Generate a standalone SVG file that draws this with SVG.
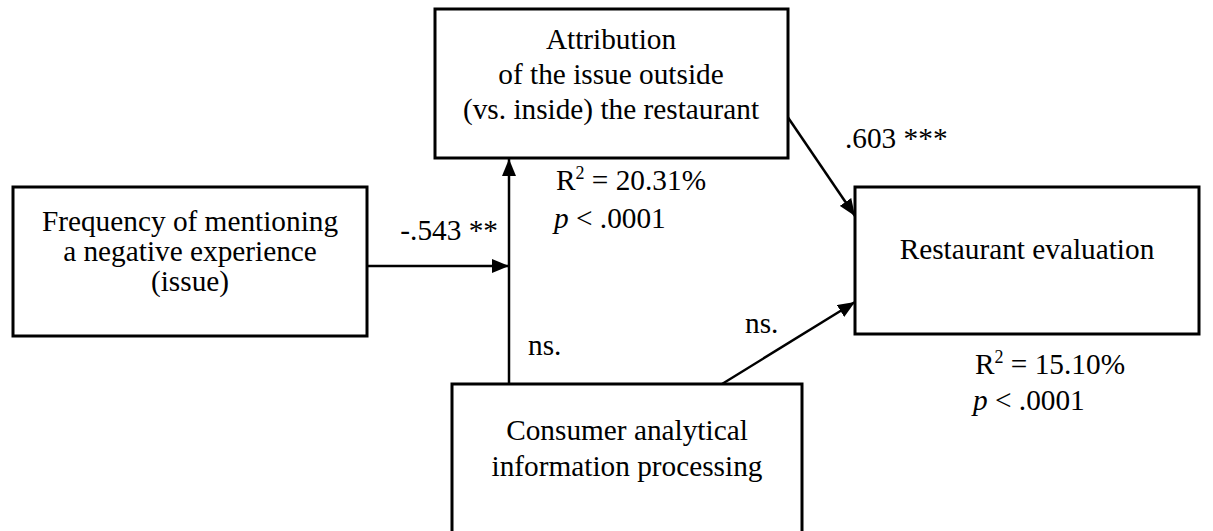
<svg xmlns="http://www.w3.org/2000/svg" width="1213" height="531" viewBox="0 0 1213 531">
<style>
.box{fill:#fff;stroke:#000;stroke-width:3}
.t{font-family:"Liberation Serif","Times New Roman",serif;font-size:29.3px;fill:#000}
.c{text-anchor:middle}
.edge{stroke:#000;stroke-width:2.5;fill:none}
</style>
<defs>
<marker id="ah" markerUnits="userSpaceOnUse" markerWidth="18" markerHeight="14" refX="17" refY="7" orient="auto">
<path d="M0,0 L17,7 L0,14 z" fill="#000"/>
</marker>
</defs>
<rect width="1213" height="531" fill="#fff"/>
<g id="connectors">
<line class="edge" x1="367" y1="266" x2="509" y2="266" marker-end="url(#ah)"/>
<line class="edge" x1="509" y1="384" x2="509" y2="159" marker-end="url(#ah)"/>
<line class="edge" x1="787" y1="116" x2="855" y2="216" marker-end="url(#ah)"/>
<line class="edge" x1="722" y1="384" x2="855" y2="302" marker-end="url(#ah)"/>
</g>
<g id="node-attribution">
<rect class="box" x="435" y="9" width="353" height="149"/>
<text class="t c" x="611" y="49">Attribution</text>
<text class="t c" x="611" y="84">of the issue outside</text>
<text class="t c" x="611" y="119">(vs. inside) the restaurant</text>
</g>
<g id="node-frequency">
<rect class="box" x="13" y="187" width="354" height="149"/>
<text class="t c" x="190" y="231">Frequency of mentioning</text>
<text class="t c" x="190" y="261">a negative experience</text>
<text class="t c" x="190" y="291">(issue)</text>
</g>
<g id="node-evaluation">
<rect class="box" x="855" y="187" width="344" height="147"/>
<text class="t c" x="1027" y="259">Restaurant evaluation</text>
</g>
<g id="node-processing">
<rect class="box" x="452" y="384" width="350" height="160"/>
<text class="t c" x="627" y="440">Consumer analytical</text>
<text class="t c" x="627" y="476">information processing</text>
</g>
<g id="labels">
<text class="t" x="498" y="240" text-anchor="end">-.543 **</text>
<text class="t" x="845" y="148">.603 ***</text>
<text class="t" x="528" y="355">ns.</text>
<text class="t" x="745" y="333">ns.</text>
<text class="t" x="556" y="190">R<tspan font-size="18" dy="-11">2</tspan><tspan dy="11"> = 20.31%</tspan></text>
<text class="t" x="554" y="228"><tspan font-style="italic">p</tspan> &lt; .0001</text>
<text class="t" x="975" y="374">R<tspan font-size="18" dy="-11">2</tspan><tspan dy="11"> = 15.10%</tspan></text>
<text class="t" x="973" y="410"><tspan font-style="italic">p</tspan> &lt; .0001</text>
</g>
</svg>
